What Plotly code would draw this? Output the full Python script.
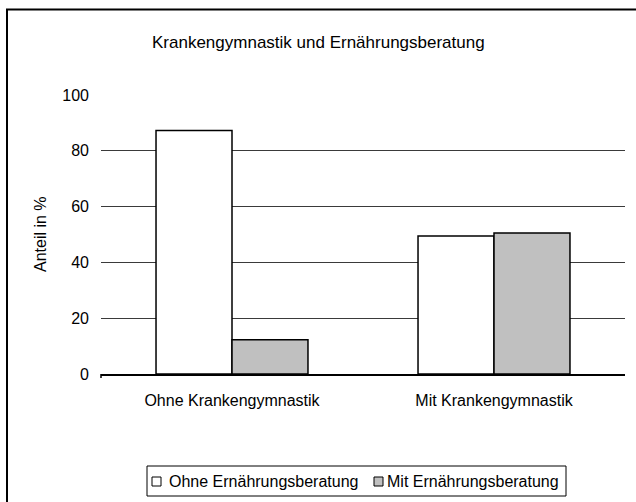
import plotly.graph_objects as go

categories = ["Ohne Krankengymnastik", "Mit Krankengymnastik"]
ohne_ern = [87.3, 49.5]
mit_ern = [12.3, 50.5]
series_names = ["Ohne Ernährungsberatung", "Mit Ernährungsberatung"]
series_colors = ["white", "#c0c0c0"]
y_ticks = [0, 20, 40, 60, 80, 100]
title_text = "Krankengymnastik und Ernährungsberatung"
y_title = "Anteil in %"

W, H = 636, 502
L, R, T, B = 101, 11, 95, 128
pw, ph = W - L - R, H - T - B

def px(x):
    return (x - L) / pw

def py(y):
    return (H - B - y) / ph

font = "Liberation Sans, Arial, sans-serif"
FS = 16

fig = go.Figure()
for name, vals, col in zip(series_names, [ohne_ern, mit_ern], series_colors):
    fig.add_trace(go.Bar(x=categories, y=vals, name=name, showlegend=False,
                         hoverinfo="skip",
                         marker=dict(color=col, line=dict(color="black", width=1.5))))

shapes = [
    dict(type="rect", xref="paper", yref="paper",
         x0=px(7), x1=px(660), y0=py(530), y1=py(9.5),
         line=dict(color="black", width=2), fillcolor="rgba(0,0,0,0)", layer="below"),
    dict(type="line", xref="paper", yref="paper", x0=0, x1=0, y0=0, y1=py(378),
         line=dict(color="black", width=1.5)),
    dict(type="rect", xref="paper", yref="paper",
         x0=px(147), x1=px(566), y0=py(496), y1=py(466),
         line=dict(color="black", width=1), fillcolor="white"),
]
annotations = [
    dict(text=title_text, x=px(318), y=py(42), xref="paper", yref="paper",
         showarrow=False, font=dict(size=17), xanchor="center", yanchor="middle"),
    dict(text=y_title, x=px(40), y=py(234), xref="paper", yref="paper", textangle=-90,
         showarrow=False, font=dict(size=FS), xanchor="center", yanchor="middle"),
]
leg_sq_x = [152, 374]
leg_tx_x = [167, 385]
for name, col, sx, tx in zip(series_names, series_colors, leg_sq_x, leg_tx_x):
    shapes.append(dict(type="rect", xref="paper", yref="paper",
                       x0=px(sx), x1=px(sx + 9), y0=py(486), y1=py(477),
                       line=dict(color="black", width=1), fillcolor=col))
    annotations.append(dict(text=name, x=px(tx), y=py(481.5), xref="paper", yref="paper",
                            showarrow=False, font=dict(size=FS), xanchor="left",
                            yanchor="middle"))

fig.update_layout(
    width=W, height=H,
    margin=dict(l=L, r=R, t=T, b=B),
    paper_bgcolor="white", plot_bgcolor="white",
    barmode="group", bargap=0.42, bargroupgap=0,
    font=dict(family=font, size=FS, color="black"),
    showlegend=False,
    xaxis=dict(showline=True, linecolor="black", linewidth=1.5, ticks="",
               showgrid=False, tickfont=dict(size=FS), ticklabelstandoff=11),
    yaxis=dict(range=[0, 100], tickvals=y_ticks, showgrid=True, gridcolor="#3a3a3a",
               gridwidth=1, zeroline=False, showline=False, ticks="",
               tickfont=dict(size=FS), ticklabelstandoff=11),
    annotations=annotations,
    shapes=shapes,
)

fig.write_html("out.html", config={"displayModeBar": False, "staticPlot": True},
               post_script="document.body.style.margin='0';document.body.style.overflow='hidden';")
